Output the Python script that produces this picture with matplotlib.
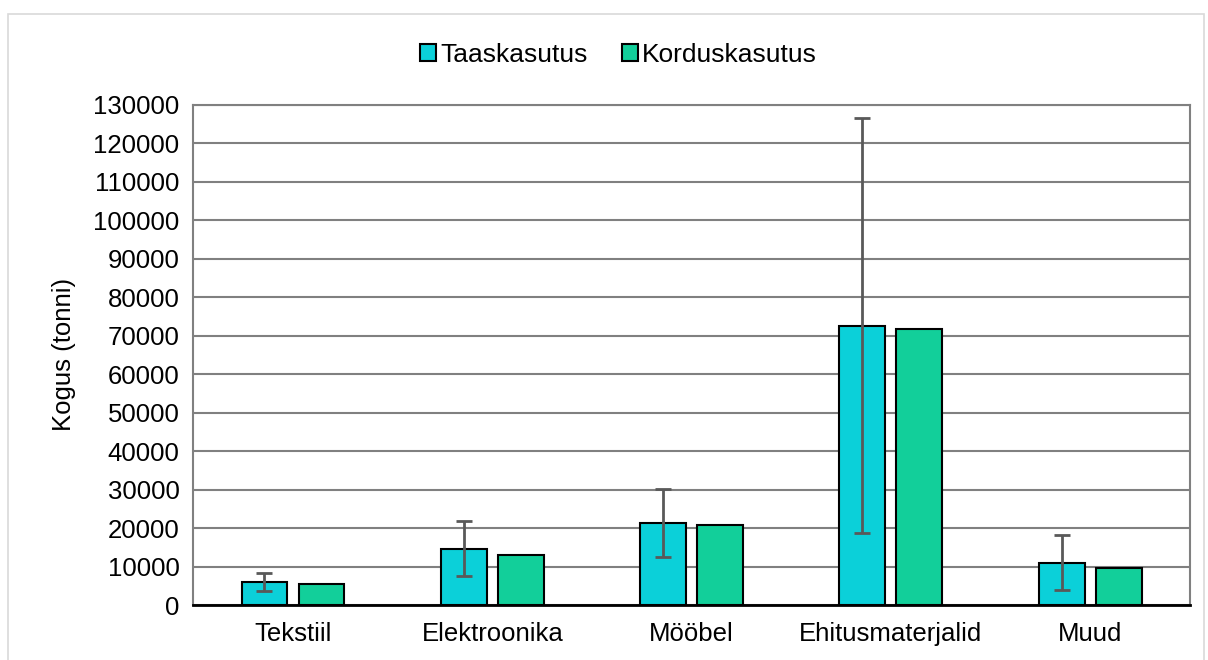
import numpy as np
import matplotlib.pyplot as plt
from matplotlib.patches import Rectangle

plt.rcParams['font.family'] = ['Liberation Sans', 'DejaVu Sans']

categories = ['Tekstiil', 'Elektroonika', 'Mööbel', 'Ehitusmaterjalid', 'Muud']
taaskasutus = np.array([6050, 14550, 21300, 72600, 11000])
korduskasutus = np.array([5450, 13050, 20850, 71800, 9550])
err_low = np.array([3650, 7450, 12400, 18600, 3900])
err_high = np.array([8400, 21750, 30200, 126600, 18300])

fig = plt.figure(figsize=(12.08, 6.6), dpi=100)
ax = fig.add_axes([0.16, 0.0833, 0.825, 0.758])

# light frame around the whole chart
fig.patches.append(Rectangle((0.0066, -0.02), 0.99, 0.999, transform=fig.transFigure,
                             fill=False, edgecolor='#d9d9d9', linewidth=1.2))

x = np.arange(len(categories))
w = 0.23
off = 0.143
ax.bar(x - off, taaskasutus, w, color='#0bd0d9', edgecolor='black', linewidth=1.5,
       label='Taaskasutus', zorder=3,
       yerr=[taaskasutus - err_low, err_high - taaskasutus],
       error_kw=dict(ecolor='#595959', elinewidth=2, capsize=6, capthick=2, zorder=4))
ax.bar(x + off, korduskasutus, w, color='#12cf9a', edgecolor='black', linewidth=1.5,
       label='Korduskasutus', zorder=3)

ax.set_xlim(-0.5, len(categories) - 0.5)
ax.set_ylim(0, 130000)
ax.set_yticks(np.arange(0, 130001, 10000))
ax.set_xticks(x)
ax.set_xticklabels(categories)
ax.tick_params(axis='both', labelsize=18.5, length=0, colors='black')
ax.tick_params(axis='x', pad=12)
ax.tick_params(axis='y', pad=10)
ax.grid(axis='y', color='#808080', linewidth=1.5, zorder=0)
for s in ['left', 'right', 'top']:
    ax.spines[s].set_color('#808080')
    ax.spines[s].set_linewidth(1.5)
ax.spines['bottom'].set_color('black')
ax.spines['bottom'].set_linewidth(2)
ax.set_ylabel('Kogus (tonni)', fontsize=18.5, labelpad=12)

leg = ax.legend(loc='center', bbox_to_anchor=(0.512, 1 - 55 / 660),
                bbox_transform=fig.transFigure, ncol=2, frameon=False, fontsize=19,
                handlelength=0.6, handleheight=0.6, handletextpad=0.15,
                columnspacing=1.3)

fig.savefig('out.png', dpi=100)
